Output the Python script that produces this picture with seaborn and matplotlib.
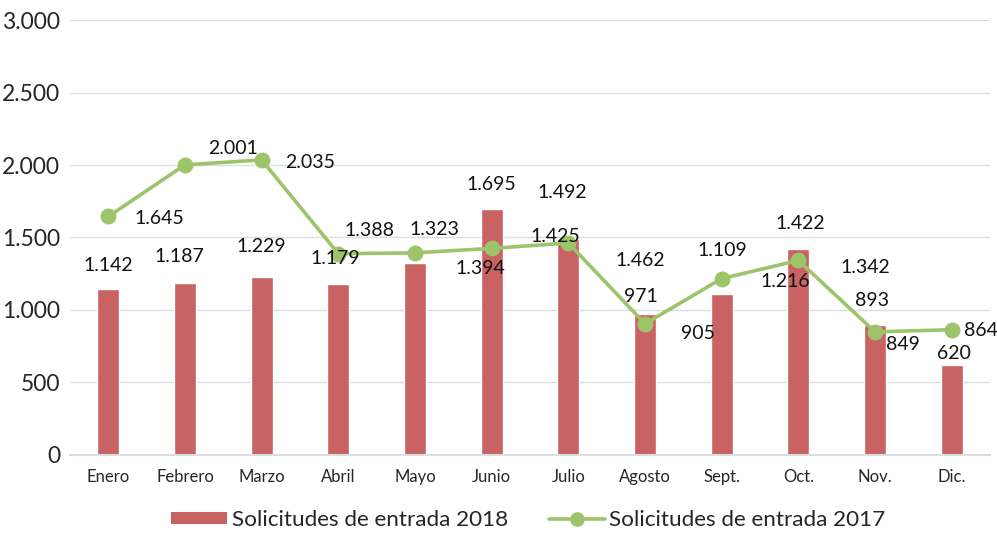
import numpy as np
import pandas as pd
import matplotlib
matplotlib.use('Agg')
import matplotlib.pyplot as plt
from matplotlib.patches import Patch
from matplotlib.lines import Line2D
import seaborn as sns

# data
meses = ['Enero', 'Febrero', 'Marzo', 'Abril', 'Mayo', 'Junio',
         'Julio', 'Agosto', 'Sept.', 'Oct.', 'Nov.', 'Dic.']
sol_2018 = [1142, 1187, 1229, 1179, 1323, 1695, 1492, 971, 1109, 1422, 893, 620]
sol_2017 = [1645, 2001, 2035, 1388, 1394, 1425, 1462, 905, 1216, 1342, 849, 864]
y_ticks = [0, 500, 1000, 1500, 2000, 2500, 3000]

# label offsets (pixels) as placed in the original
off_2018 = [(0, 24), (-6, 26), (0, 30), (-3, 26), (19, 34), (0, 25),
            (-6, 46), (-4, 18), (1, 44), (2, 25), (-3, 25), (2, 12)]
off_2017 = [(51, -2), (48, 16), (48, -3), (31, 23), (65, -16), (64, 12),
            (72, -17), (53, -10), (64, -3), (67, -7), (28, -13), (29, -1)]

bar_col = '#C96262'
line_col = '#9DC46B'

sns.set_style('white')
plt.rcParams['font.family'] = ['Lato', 'DejaVu Sans']

df = pd.DataFrame({'mes': meses, 's2018': sol_2018, 's2017': sol_2017})

fig = plt.figure(figsize=(9.97, 5.34), dpi=100)
ax = fig.add_axes([0.0702, 0.148, 0.9228, 0.8145])

sns.barplot(data=df, x='mes', y='s2018', color=bar_col, width=0.29,
            saturation=1, ax=ax, zorder=2)
sns.pointplot(data=df, x='mes', y='s2017', color=line_col, markers='o',
              linestyles='-', errorbar=None, markersize=9.5, linewidth=2.6,
              ax=ax, zorder=3)

def fmt(v):
    return f'{v:,.0f}'.replace(',', '.')

for i, v in enumerate(sol_2018):
    ax.annotate(fmt(v), (i, v), xytext=off_2018[i], textcoords='offset pixels',
                ha='center', va='center', fontsize=14, color='#111111', zorder=4)
for i, v in enumerate(sol_2017):
    ax.annotate(fmt(v), (i, v), xytext=off_2017[i], textcoords='offset pixels',
                ha='center', va='center', fontsize=14, color='#111111', zorder=4)

ax.set_ylim(0, 3000)
ax.set_xlim(-0.5, 11.5)
ax.set_yticks(y_ticks)
ax.set_yticklabels([fmt(t) for t in y_ticks], fontsize=16.5)
ax.tick_params(axis='x', labelsize=12, length=0, pad=10)
ax.tick_params(axis='y', length=0, pad=7)
ax.yaxis.grid(True, color='#D9DEE2', linewidth=1)
ax.set_axisbelow(True)
ax.set_xlabel('')
ax.set_ylabel('')
for s in ['top', 'right', 'left']:
    ax.spines[s].set_visible(False)
ax.spines['bottom'].set_color('#D9DEE2')
ax.spines['bottom'].set_linewidth(1.5)

handles = [Patch(facecolor=bar_col, edgecolor='none'),
           Line2D([0], [0], color=line_col, linewidth=2.6, marker='o', markersize=9.5)]
fig.legend(handles, ['Solicitudes de entrada 2018', 'Solicitudes de entrada 2017'],
           loc='center', bbox_to_anchor=(0.53, 0.027), ncol=2, frameon=False,
           fontsize=16.2, handlelength=2.5, handleheight=0.45, columnspacing=1.8,
           handletextpad=0.2)

fig.savefig('out.png', dpi=100)
